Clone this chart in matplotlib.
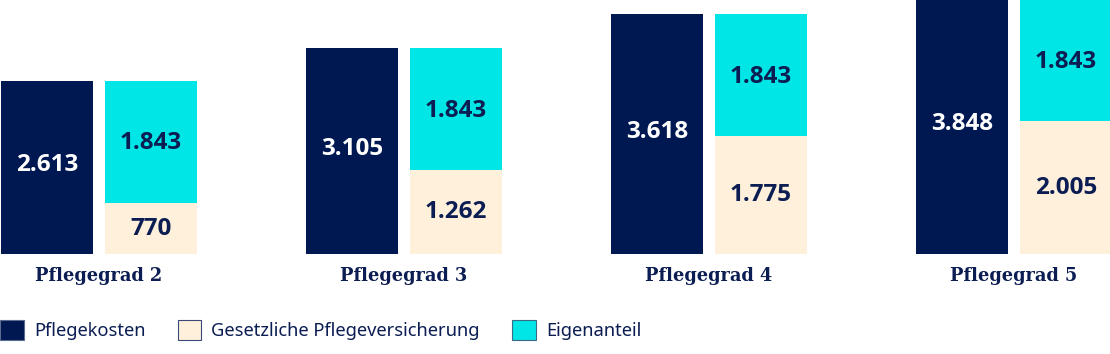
import matplotlib
matplotlib.use("Agg")
import matplotlib.pyplot as plt
from matplotlib.patches import Patch
import numpy as np

categories = ["Pflegegrad 2", "Pflegegrad 3", "Pflegegrad 4", "Pflegegrad 5"]
pflegekosten = [2613, 3105, 3618, 3848]
versicherung = [770, 1262, 1775, 2005]
eigenanteil = [1843, 1843, 1843, 1843]
series_names = ["Pflegekosten", "Gesetzliche Pflegeversicherung", "Eigenanteil"]

NAVY = "#001852"
CREAM = "#FFF0DC"
CYAN = "#00E6E6"
TEXT = "#0B1D52"

def fmt(v):
    return f"{v:,}".replace(",", ".")

W, H = 1110, 354
fig = plt.figure(figsize=(W / 100, H / 100), dpi=100)
ax = fig.add_axes([0, 100 / H, 1, 254 / H])
scale = 0.0662
ymax = 254 / scale
ax.set_ylim(0, ymax)
c0 = 99 / 305
ax.set_xlim(-c0, (W - 99) / 305)
ax.axis("off")

x = np.arange(len(categories))
bw = 92 / 305
off = 52 / 305

ax.bar(x - off, pflegekosten, bw, color=NAVY, linewidth=0)
ax.bar(x + off, versicherung, bw, color=CREAM, linewidth=0)
ax.bar(x + off, eigenanteil, bw, bottom=versicherung, color=CYAN, linewidth=0)

vfont = dict(fontsize=17.5, fontweight="bold", family="Open Sans", ha="center", va="center")
for i in range(len(categories)):
    top = min(pflegekosten[i], ymax)
    ax.text(x[i] - off, top / 2 + 40, fmt(pflegekosten[i]), color="white", **vfont)
    ax.text(x[i] + off, versicherung[i] / 2, fmt(versicherung[i]), color=TEXT, **vfont)
    ctop = min(versicherung[i] + eigenanteil[i], ymax)
    ax.text(x[i] + off, (versicherung[i] + ctop) / 2 - 20, fmt(eigenanteil[i]), color=TEXT, **vfont)
    ax.text(x[i], -22 / scale, categories[i], color=TEXT, fontsize=12.8, fontweight="bold",
            family="DejaVu Serif", ha="center", va="center", clip_on=False)

handles = [Patch(facecolor=NAVY, edgecolor="#5a6a90", linewidth=0.8),
           Patch(facecolor=CREAM, edgecolor="#3a4a78", linewidth=0.8),
           Patch(facecolor=CYAN, edgecolor="#3a6a88", linewidth=0.8)]
leg = fig.legend(handles, series_names, loc="center left", bbox_to_anchor=(0.0, 24 / H),
                 ncol=3, frameon=False, handlelength=1.3, handleheight=1.3,
                 handletextpad=0.55, columnspacing=1.75, borderaxespad=0, borderpad=0,
                 prop=dict(family="Noto Sans", size=13.2))
for t in leg.get_texts():
    t.set_color(TEXT)

fig.savefig("out.png", dpi=100)
